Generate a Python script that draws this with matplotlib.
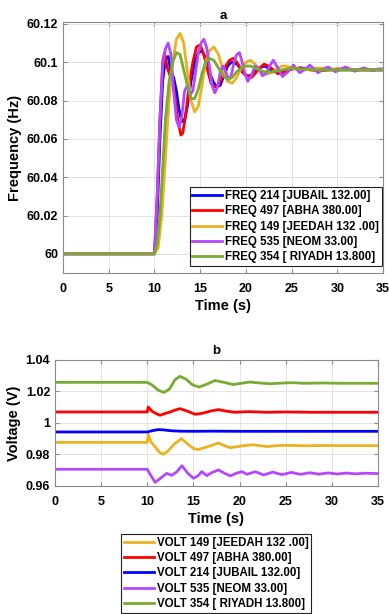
import matplotlib
matplotlib.use("Agg")
import matplotlib.pyplot as plt

plt.rcParams['font.family'] = ['Liberation Sans', 'DejaVu Sans']
plt.rcParams['font.weight'] = 'bold'

# ---------------- Frequency data (panel a) ----------------
freq_labels = ["FREQ 214 [JUBAIL 132.00]", "FREQ 497 [ABHA 380.00]",
               "FREQ 149 [JEEDAH 132 .00]", "FREQ 535 [NEOM 33.00]",
               "FREQ 354 [ RIYADH 13.800]"]

t_jubail = [0, 10.0, 10.3, 10.6, 10.9, 11.2, 11.5, 11.8, 12.1, 12.4, 12.7, 13.0, 13.3, 13.6,
            14.0, 14.4, 14.8, 15.2, 15.6, 16.0, 16.4, 16.8, 17.2, 17.6, 18.0, 18.4, 18.8,
            19.2, 19.6, 20.0, 20.5, 21.0, 21.5, 22.0, 22.5, 23.0, 24.0, 25.0, 26.0, 28.0, 35.0]
f_jubail = [60.0, 60.0, 60.02, 60.06, 60.09, 60.102, 60.103, 60.095, 60.092, 60.085, 60.075,
            60.069, 60.07, 60.077, 60.09, 60.1, 60.105, 60.106, 60.102, 60.095, 60.09, 60.087,
            60.088, 60.093, 60.098, 60.1, 60.1, 60.098, 60.095, 60.093, 60.093, 60.095, 60.097,
            60.098, 60.097, 60.095, 60.095, 60.0965, 60.097, 60.096, 60.096]

t_abha = [0, 10.0, 10.3, 10.6, 10.9, 11.1, 11.4, 11.7, 12.0, 12.3, 12.6, 12.9, 13.1, 13.4,
          13.8, 14.2, 14.6, 15.0, 15.4, 15.8, 16.2, 16.6, 17.0, 17.4, 17.8, 18.2, 18.6, 19.0,
          19.4, 19.8, 20.2, 20.6, 21.0, 21.5, 22.0, 22.5, 23.0, 23.5, 24.0, 25.0, 26.0, 27.0,
          28.0, 30.0, 32.0, 35.0]
f_abha = [60.0, 60.0, 60.03, 60.07, 60.1, 60.105, 60.097, 60.093, 60.09, 60.08, 60.068, 60.062,
          60.063, 60.072, 60.088, 60.1, 60.108, 60.109, 60.104, 60.096, 60.089, 60.087, 60.088,
          60.092, 60.098, 60.101, 60.102, 60.1, 60.097, 60.094, 60.093, 60.092, 60.094, 60.097,
          60.099, 60.098, 60.096, 60.094, 60.0945, 60.0965, 60.097, 60.096, 60.0955, 60.0965,
          60.096, 60.096]

t_jeedah = [0, 10.0, 10.4, 10.8, 11.2, 11.6, 12.0, 12.4, 12.8, 13.2, 13.6, 14.0, 14.4, 14.8,
            15.2, 15.6, 16.0, 16.5, 17.0, 17.5, 18.0, 18.5, 19.0, 19.5, 20.0, 20.5, 21.0, 21.5,
            22.0, 22.5, 23.0, 23.5, 24.0, 24.5, 25.0, 26.0, 27.0, 28.0, 30.0, 35.0]
f_jeedah = [60.0, 60.0, 60.003, 60.02, 60.05, 60.08, 60.1, 60.112, 60.115, 60.11, 60.095,
            60.08, 60.074, 60.077, 60.088, 60.1, 60.106, 60.108, 60.104, 60.096, 60.09, 60.089,
            60.092, 60.097, 60.1, 60.101, 60.099, 60.096, 60.094, 60.094, 60.095, 60.097,
            60.098, 60.098, 60.097, 60.0955, 60.0965, 60.097, 60.096, 60.096]

t_neom = [0, 10.0, 10.3, 10.6, 10.9, 11.2, 11.5, 11.8, 12.1, 12.4, 12.7, 13.0, 13.3, 13.6,
          13.9, 14.2, 14.5, 14.8, 15.1, 15.4, 15.7, 16.0, 16.3, 16.6, 16.9, 17.2, 17.5, 17.8,
          18.1, 18.4, 18.7, 19.0, 19.3, 19.6, 19.9, 20.2, 20.6, 21.0, 21.4, 21.8, 22.2, 22.6,
          23.0, 23.5, 24.0, 24.6, 25.2, 25.9, 26.5, 27.0, 27.9, 28.5, 29.0, 29.8, 30.4, 30.9,
          31.9, 32.4, 32.9, 33.9, 34.5, 35.0]
f_neom = [60.0, 60.0, 60.03, 60.07, 60.098, 60.107, 60.11, 60.104, 60.085, 60.07, 60.066,
          60.072, 60.085, 60.088, 60.083, 60.085, 60.095, 60.105, 60.11, 60.112, 60.108,
          60.098, 60.088, 60.084, 60.087, 60.095, 60.098, 60.095, 60.091, 60.093, 60.1,
          60.104, 60.105, 60.1, 60.094, 60.09, 60.093, 60.098, 60.097, 60.093, 60.094, 60.098,
          60.101, 60.097, 60.0925, 60.095, 60.0985, 60.0945, 60.0965, 60.0985, 60.0945,
          60.0965, 60.0975, 60.095, 60.0965, 60.0975, 60.0953, 60.0963, 60.097, 60.0955,
          60.0965, 60.0965]

t_riyadh = [0, 10.0, 10.3, 10.6, 10.9, 11.2, 11.6, 12.0, 12.4, 12.8, 13.2, 13.6, 14.0, 14.4,
            14.8, 15.2, 15.6, 16.0, 16.5, 17.0, 17.5, 18.0, 18.5, 19.0, 19.5, 20.0, 20.5,
            21.0, 22.0, 23.0, 24.0, 25.0, 26.0, 28.0, 35.0]
f_riyadh = [60.0, 60.0, 60.005, 60.02, 60.045, 60.07, 60.09, 60.1, 60.105, 60.104, 60.096,
            60.088, 60.081, 60.081, 60.086, 60.094, 60.1, 60.102, 60.101, 60.097, 60.093,
            60.091, 60.092, 60.095, 60.097, 60.098, 60.098, 60.097, 60.095, 60.095, 60.096,
            60.097, 60.0965, 60.096, 60.096]

# ---------------- Voltage data (panel b) ----------------
volt_labels = ["VOLT 149 [JEEDAH 132 .00]", "VOLT 497 [ABHA 380.00]",
               "VOLT 214 [JUBAIL 132.00]", "VOLT 535 [NEOM 33.00]",
               "VOLT 354 [ RIYADH 13.800]"]

tv_jeedah = [0, 10.0, 10.1, 10.4, 10.85, 11.3, 11.75, 12.3, 12.9, 13.7, 14.5, 15.0, 15.5, 16.0,
             16.45, 17.0, 17.7, 18.3, 19.0, 19.8, 20.6, 21.5, 22.3, 23.0, 24.0, 25.0, 27.0,
             29.0, 31.0, 35.0]
v_jeedah = [0.9877, 0.9877, 0.9928, 0.988, 0.9848, 0.9815, 0.9801, 0.9825, 0.9865, 0.9901,
            0.986, 0.9838, 0.9831, 0.984, 0.9848, 0.9858, 0.9873, 0.9858, 0.9843, 0.985,
            0.9857, 0.9862, 0.9855, 0.985, 0.9856, 0.9858, 0.9855, 0.9857, 0.9856, 0.9856]

tv_abha = [0, 10.0, 10.1, 10.5, 11.0, 11.4, 12.0, 12.5, 13.0, 13.55, 14.2, 15.2, 16.0, 16.8,
           17.7, 18.6, 19.5, 21.0, 23.0, 25.0, 28.0, 35.0]
v_abha = [1.007, 1.007, 1.0102, 1.0075, 1.0058, 1.0049, 1.0062, 1.007, 1.0082, 1.0091, 1.0078,
          1.0055, 1.0062, 1.0075, 1.0085, 1.0075, 1.0068, 1.0072, 1.0068, 1.007, 1.0068, 1.0068]

tv_jubail = [0, 10.0, 10.6, 11.2, 11.8, 12.5, 13.5, 15.0, 17.0, 20.0, 35.0]
v_jubail = [0.9943, 0.9943, 0.9952, 0.9958, 0.9956, 0.9951, 0.9948, 0.9947, 0.9948, 0.9947,
            0.9947]

tv_neom = [0, 10.0, 10.4, 10.85, 11.4, 12.1, 12.65, 13.2, 13.75, 14.4, 15.0, 15.5, 15.9,
           16.45, 17.0, 17.7, 18.4, 19.0, 19.6, 20.25, 20.8, 21.7, 22.6, 23.6, 24.6, 25.6,
           26.6, 27.6, 28.6, 29.6, 30.6, 31.6, 32.6, 33.6, 35.0]
v_neom = [0.9706, 0.9706, 0.9665, 0.9623, 0.9648, 0.968, 0.9668, 0.969, 0.9729, 0.968, 0.9649,
          0.9665, 0.9691, 0.9666, 0.9685, 0.9702, 0.968, 0.9664, 0.968, 0.9691, 0.9674,
          0.9691, 0.967, 0.9688, 0.9672, 0.9686, 0.9674, 0.9684, 0.9675, 0.9683, 0.9676,
          0.9682, 0.9677, 0.9681, 0.9679]

tv_riyadh = [0, 10.0, 10.5, 11.2, 11.8, 12.4, 13.0, 13.55, 14.2, 14.9, 15.6, 16.4, 17.35,
             18.3, 19.3, 20.2, 21.1, 22.2, 23.3, 24.5, 25.7, 27.0, 29.0, 31.0, 35.0]
v_riyadh = [1.0258, 1.0258, 1.0242, 1.0208, 1.0194, 1.0215, 1.0275, 1.0296, 1.0278, 1.0242,
            1.0228, 1.0245, 1.027, 1.0258, 1.0244, 1.0252, 1.026, 1.0254, 1.0249, 1.0253,
            1.0256, 1.0252, 1.0254, 1.0252, 1.0252]

c_blue = "#0000FF"
c_red = "#FF0000"
c_yellow = "#EDB120"
c_purple = "#B548FF"
c_green = "#77AC30"

fig = plt.figure(figsize=(3.89, 6.14), dpi=100)
ax1 = fig.add_axes([0.162, 0.5554, 0.8226, 0.4088])
ax2 = fig.add_axes([0.1414, 0.2085, 0.8303, 0.2052])

lw = 2.0
ax1.plot(t_jubail, f_jubail, color=c_blue, lw=lw, label=freq_labels[0])
ax1.plot(t_abha, f_abha, color=c_red, lw=lw, label=freq_labels[1])
ax1.plot(t_jeedah, f_jeedah, color=c_yellow, lw=lw, label=freq_labels[2])
ax1.plot(t_neom, f_neom, color=c_purple, lw=lw, label=freq_labels[3])
ax1.plot(t_riyadh, f_riyadh, color=c_green, lw=lw, label=freq_labels[4])

ax2.plot(tv_jeedah, v_jeedah, color=c_yellow, lw=lw, label=volt_labels[0])
ax2.plot(tv_abha, v_abha, color=c_red, lw=lw, label=volt_labels[1])
ax2.plot(tv_jubail, v_jubail, color=c_blue, lw=lw, label=volt_labels[2])
ax2.plot(tv_neom, v_neom, color=c_purple, lw=lw, label=volt_labels[3])
ax2.plot(tv_riyadh, v_riyadh, color=c_green, lw=lw, label=volt_labels[4])

xticks = [0, 5, 10, 15, 20, 25, 30, 35]
f_ticks = [60, 60.02, 60.04, 60.06, 60.08, 60.1, 60.12]
f_ticklabels = ["60", "60.02", "60.04", "60.06", "60.08", "60.1", "60.12"]
v_ticks = [0.96, 0.98, 1.0, 1.02, 1.04]
v_ticklabels = ["0.96", "0.98", "1", "1.02", "1.04"]

for ax in (ax1, ax2):
    ax.set_xlim(0, 35)
    ax.set_xticks(xticks)
    ax.grid(True, color="#e3e3e3", lw=0.7)
    ax.set_axisbelow(True)
    for s in ax.spines.values():
        s.set_color("#8a8a8a")
        s.set_linewidth(0.8)
    ax.tick_params(direction="in", length=3, color="#8a8a8a", labelsize=9,
                   top=True, right=True)
    ax.tick_params(axis="x", pad=7)
    ax.tick_params(axis="y", pad=3.5)
    for lab in ax.get_xticklabels() + ax.get_yticklabels():
        lab.set_fontweight("bold")
    ax.set_xlabel("Time (s)", fontsize=10.5, fontweight="bold", labelpad=3)

ax1.set_ylim(59.99, 60.121)
ax1.set_yticks(f_ticks)
ax1.set_yticklabels(f_ticklabels, fontweight="bold")
ax1.set_ylabel("Frequency (Hz)", fontsize=10.5, fontweight="bold", labelpad=3)
ax1.set_title("a", fontsize=9.5, fontweight="bold", pad=2)

ax2.set_ylim(0.96, 1.04)
ax2.set_yticks(v_ticks)
ax2.set_yticklabels(v_ticklabels, fontweight="bold")
ax2.set_ylabel("Voltage (V)", fontsize=10.5, fontweight="bold", labelpad=3)
ax2.set_title("b", fontsize=9.5, fontweight="bold", pad=4)

leg_kw = dict(fancybox=False, framealpha=1, edgecolor="#222222",
              handlelength=2.6, handletextpad=0.25, labelspacing=0.28, borderpad=0.25,
              prop={"weight": "bold", "size": 8.3})
l1 = ax1.legend(loc="lower right", bbox_to_anchor=(0.997, 0.028), borderaxespad=0, **leg_kw)
l1.get_frame().set_linewidth(0.8)
h2, lab2 = ax2.get_legend_handles_labels()
l2 = fig.legend(h2, lab2, loc="upper left", bbox_to_anchor=(0.311, 0.1303), borderaxespad=0,
                **leg_kw)
l2.get_frame().set_linewidth(0.8)

fig.savefig("out.png", dpi=100)
